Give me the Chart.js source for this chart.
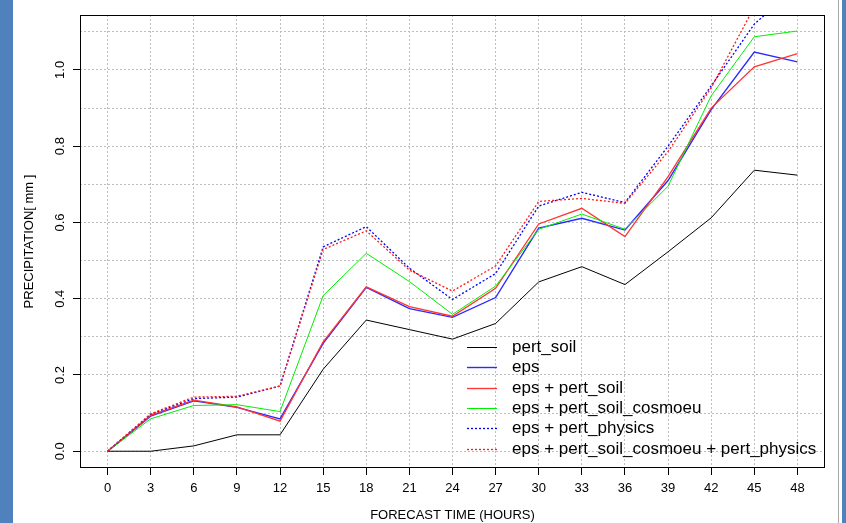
<!DOCTYPE html>
<html>
<head>
<meta charset="utf-8">
<script src="https://cdn.jsdelivr.net/npm/chart.js@4.4.0/dist/chart.umd.min.js"></script>
<style>
    html, body { margin: 0; padding: 0; background: #fff; }
    #wrap { position: relative; width: 846px; height: 523px; overflow: hidden; background: #fff; }
    #c { position: absolute; left: 0; top: 0; }
    .strip { position: absolute; top: 0; height: 523px; background: #4f81bd; }
</style>
</head>
<body>
<div id="wrap">
    <canvas id="c" width="846" height="523"></canvas>
    <div class="strip" style="left:0;width:13px"></div>
    <div style="position:absolute;left:838px;top:0;width:1px;height:523px;background:#a6a6a6"></div>
    <div class="strip" style="left:842px;width:4px"></div>
</div>
<script>
// horas de pronostico y precipitacion media (mm)
const hours = [0, 3, 6, 9, 12, 15, 18, 21, 24, 27, 30, 33, 36, 39, 42, 45, 48];
const pertSoil = [0, 0, 0.014, 0.043, 0.043, 0.215, 0.344, 0.319, 0.294, 0.335, 0.444, 0.484, 0.437, 0.523, 0.612, 0.737, 0.724];
const eps = [0, 0.092, 0.132, 0.115, 0.085, 0.283, 0.43, 0.374, 0.351, 0.403, 0.585, 0.611, 0.58, 0.71, 0.896, 1.047, 1.021];
const epsPertSoil = [0, 0.094, 0.134, 0.116, 0.079, 0.287, 0.431, 0.379, 0.354, 0.427, 0.596, 0.637, 0.563, 0.72, 0.9, 1.008, 1.043];
const epsCosmoeu = [0, 0.085, 0.12, 0.122, 0.104, 0.408, 0.519, 0.445, 0.359, 0.433, 0.582, 0.622, 0.582, 0.695, 0.932, 1.087, 1.102];
const epsPhysics = [0, 0.097, 0.138, 0.142, 0.171, 0.536, 0.589, 0.48, 0.398, 0.466, 0.643, 0.679, 0.652, 0.8, 0.958, 1.12, 1.22];
const epsAll = [0, 0.098, 0.142, 0.144, 0.171, 0.529, 0.578, 0.475, 0.42, 0.486, 0.655, 0.663, 0.65, 0.786, 0.953, 1.165, 1.2];

const seriesNames = ['pert_soil', 'eps', 'eps + pert_soil', 'eps + pert_soil_cosmoeu', 'eps + pert_physics', 'eps + pert_soil_cosmoeu + pert_physics'];
const yGridTicks = [0, 0.1, 0.2, 0.3, 0.4, 0.5, 0.6, 0.7, 0.8, 0.9, 1.0, 1.1];
const yLabelTicks = [0, 0.2, 0.4, 0.6, 0.8, 1.0];

const FONT = "'Liberation Sans', Arial, sans-serif";

const estilos = [
    { color: '#000000', width: 1, dash: [] },
    { color: '#2a2aff', width: 1.4, dash: [] },
    { color: '#ff3434', width: 1.3, dash: [] },
    { color: '#00ee00', width: 1, dash: [] },
    { color: '#0000ff', width: 1.3, dash: [2, 2] },
    { color: '#ff1a1a', width: 1.3, dash: [2, 2] }
];

const valores = [pertSoil, eps, epsPertSoil, epsCosmoeu, epsPhysics, epsAll];

const datasets = valores.map((serie, i) => ({
    label: seriesNames[i],
    data: serie.map((v, j) => ({ x: hours[j], y: v })),
    borderColor: estilos[i].color,
    borderWidth: estilos[i].width,
    borderDash: estilos[i].dash,
    pointRadius: 0,
    tension: 0,
    fill: false,
    order: valores.length - 1 - i
}));

const marcoPlugin = {
    id: 'marco',
    afterDraw(chart) {
        const { ctx, chartArea: a } = chart;
        const y = chart.scales.y;
        ctx.save();
        // caja del grafico
        ctx.strokeStyle = '#000';
        ctx.lineWidth = 1;
        ctx.setLineDash([]);
        ctx.strokeRect(a.left + 0.5, a.top + 0.5, a.right - a.left - 1, a.bottom - a.top - 1);

        // etiquetas del eje y, giradas como en R
        ctx.fillStyle = '#000';
        ctx.font = `13px ${FONT}`;
        ctx.textAlign = 'center';
        ctx.textBaseline = 'middle';
        yLabelTicks.forEach((v) => {
            const py = y.getPixelForValue(v);
            ctx.save();
            ctx.translate(60, py);
            ctx.rotate(-Math.PI / 2);
            ctx.fillText(v.toFixed(1), 0, 0);
            ctx.restore();
        });

        // leyenda dentro del area
        const x0 = 467, x1 = 497, xt = 512, y0 = 347, dy = 20.35;
        ctx.font = `17px ${FONT}`;
        ctx.textAlign = 'left';
        chart.data.datasets.forEach((ds, i) => {
            const yy = Math.round(y0 + i * dy) + 0.5;
            ctx.strokeStyle = ds.borderColor;
            ctx.lineWidth = ds.borderWidth;
            ctx.setLineDash(ds.borderDash || []);
            ctx.beginPath();
            ctx.moveTo(x0, yy);
            ctx.lineTo(x1, yy);
            ctx.stroke();
            ctx.fillText(ds.label, xt, yy);
        });
        ctx.restore();
    }
};

new Chart(document.getElementById('c').getContext('2d'), {
    type: 'line',
    data: { datasets },
    plugins: [marcoPlugin],
    options: {
        responsive: false,
        animation: false,
        devicePixelRatio: 1,
        layout: { padding: { left: 0, right: 21, top: 15, bottom: 0 } },
        plugins: { legend: { display: false }, tooltip: { enabled: false } },
        scales: {
            x: {
                type: 'linear',
                min: -1.92,
                max: 49.92,
                afterBuildTicks: (axis) => { axis.ticks = hours.map((v) => ({ value: v })); },
                afterFit: (s) => { s.height = 55; },
                ticks: { autoSkip: false, maxRotation: 0, color: '#000', font: { family: FONT, size: 13 }, padding: 6 },
                grid: { color: '#bdbdbd', tickLength: 7, tickColor: '#000', tickBorderDash: [] },
                border: { display: false, dash: [2, 2] },
                title: { display: true, text: 'FORECAST TIME (HOURS)', color: '#000', font: { family: FONT, size: 13 }, padding: { top: 0, bottom: 0 } }
            },
            y: {
                min: -0.044,
                max: 1.144,
                afterBuildTicks: (axis) => { axis.ticks = yGridTicks.map((v) => ({ value: v })); },
                afterFit: (s) => { s.width = 80; },
                ticks: { display: false },
                grid: {
                    color: '#bdbdbd',
                    tickLength: 7,
                    tickBorderDash: [],
                    tickColor: (c) => (yLabelTicks.some((v) => Math.abs(v - c.tick.value) < 1e-6) ? '#000' : 'rgba(0,0,0,0)')
                },
                border: { display: false, dash: [2, 2] },
                title: { display: true, text: 'PRECIPITATION[ mm ]', color: '#000', font: { family: FONT, size: 13 }, padding: { top: 22, bottom: 0 } }
            }
        }
    }
});
</script>
</body>
</html>
